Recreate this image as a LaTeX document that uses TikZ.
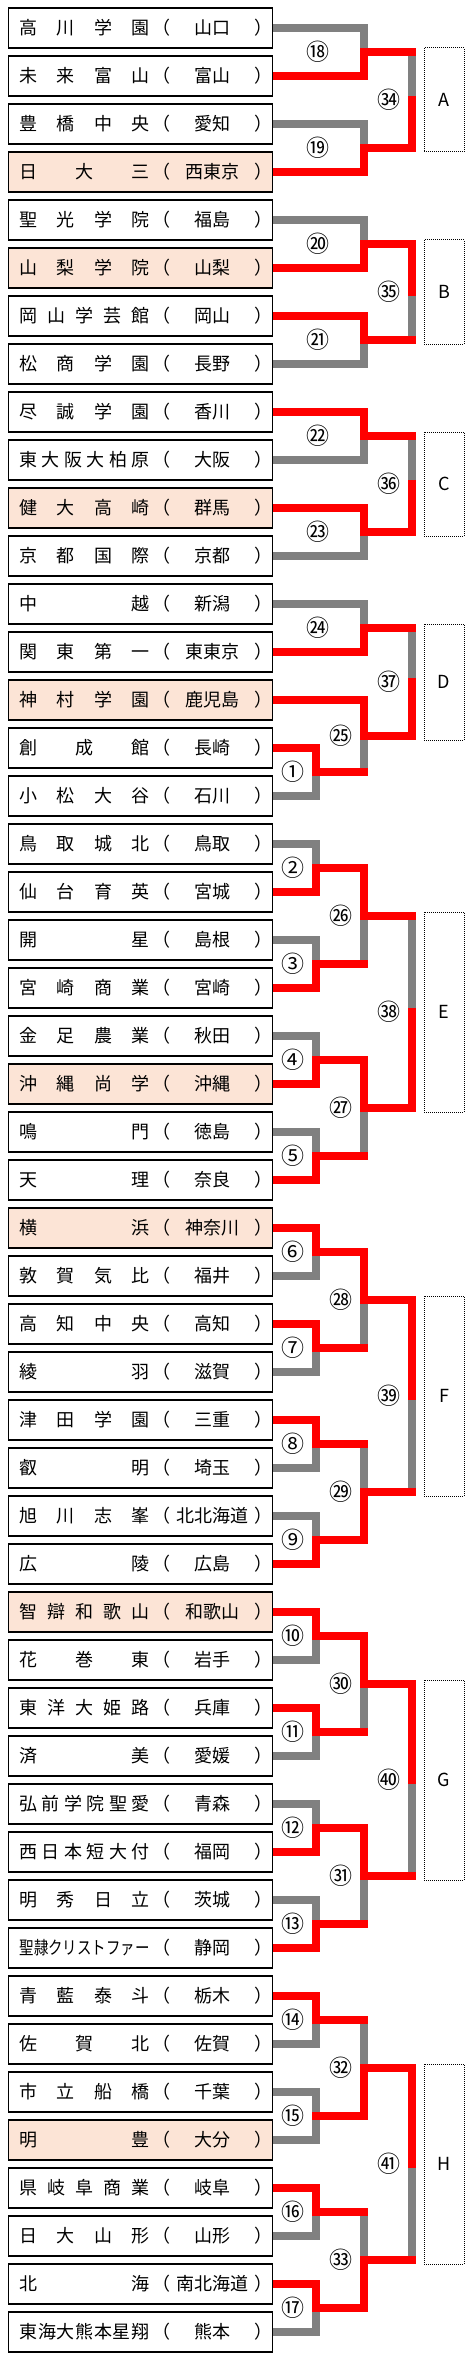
\documentclass[tikz,border=0pt]{standalone}
\usepackage{fontspec}
\setmainfont{Noto Sans CJK JP}
\usepackage{graphicx}
\definecolor{peach}{HTML}{FCE4D6}
\definecolor{losegray}{HTML}{808080}
\newsavebox\namebox
\newcommand\sprd[1]{\expandafter\sprdA#1\relax}
\def\sprdA#1{\ifx#1\relax\else#1\expandafter\sprdB\fi}
\def\sprdB#1{\ifx#1\relax\else\hfill#1\expandafter\sprdB\fi}
\newcommand\namefield[1]{\sbox\namebox{#1}\ifdim\wd\namebox>65pt\resizebox{65pt}{\height}{#1}\else\makebox[65pt][s]{\sprd{#1}}\fi}
\newcommand\teamtext[2]{\makebox[132pt][l]{\hspace{5.5pt}\namefield{#1}\hspace{1.5pt}（\makebox[42pt]{#2}）}}

\begin{document}
\begin{tikzpicture}[x=0.5pt,y=-0.5pt,font=\fontsize{9pt}{11pt}\selectfont,
  team/.style={draw,line width=0.6pt,inner sep=0pt,minimum height=20pt,anchor=west},
  num/.style={inner sep=0pt,font=\fontsize{11.5pt}{12pt}\selectfont},
  grp/.style={draw,line width=0.5pt,dash pattern=on 0.5pt off 0.5pt,inner sep=0pt,minimum width=20pt},
  lost/.style={draw=losegray,line width=4pt},
  won/.style={draw=red,line width=4pt}]
  \path[use as bounding box,fill=white] (0,0) rectangle (473,2360);

  \foreach \i/\nm/\pf/\bg in {0/高川学園/山口/white, 1/未来富山/富山/white, 2/豊橋中央/愛知/white, 3/日大三/西東京/peach,
    4/聖光学院/福島/white, 5/山梨学院/山梨/peach, 6/岡山学芸館/岡山/white, 7/松商学園/長野/white,
    8/尽誠学園/香川/white, 9/東大阪大柏原/大阪/white, 10/健大高崎/群馬/peach, 11/京都国際/京都/white,
    12/中越/新潟/white, 13/関東第一/東東京/white, 14/神村学園/鹿児島/peach, 15/創成館/長崎/white, 16/小松大谷/石川/white,
    17/鳥取城北/鳥取/white, 18/仙台育英/宮城/white, 19/開星/島根/white, 20/宮崎商業/宮崎/white,
    21/金足農業/秋田/white, 22/沖縄尚学/沖縄/peach, 23/鳴門/徳島/white, 24/天理/奈良/white,
    25/横浜/神奈川/peach, 26/敦賀気比/福井/white, 27/高知中央/高知/white, 28/綾羽/滋賀/white,
    29/津田学園/三重/white, 30/叡明/埼玉/white, 31/旭川志峯/北北海道/white, 32/広陵/広島/white,
    33/智辯和歌山/和歌山/peach, 34/花巻東/岩手/white, 35/東洋大姫路/兵庫/white, 36/済美/愛媛/white,
    37/弘前学院聖愛/青森/white, 38/西日本短大付/福岡/white, 39/明秀日立/茨城/white, 40/聖隷クリストファー/静岡/white,
    41/青藍泰斗/栃木/white, 42/佐賀北/佐賀/white, 43/市立船橋/千葉/white, 44/明豊/大分/peach,
    45/県岐阜商業/岐阜/white, 46/日大山形/山形/white, 47/北海/南北海道/white, 48/東海大熊本星翔/熊本/white}
    \node[team,fill=\bg](t\i) at (8,28+48*\i) {\teamtext{\nm}{\pf}};

  \foreach \k/\c in {0/⑱,1/⑲,2/⑳,3/㉑,4/㉒,5/㉓,6/㉔}{
    \pgfmathtruncatemacro\n{18+\k}
    \coordinate (m\n) at (364,52+96*\k);
    \node[num](n\n) at (318,52+96*\k) {\c};}
  \foreach \k/\c in {0/②,1/③,2/④,3/⑤,4/⑥,5/⑦,6/⑧,7/⑨,8/⑩,9/⑪,10/⑫,11/⑬,12/⑭,13/⑮,14/⑯,15/⑰}{
    \pgfmathtruncatemacro\n{2+\k}
    \coordinate (m\n) at (316,868+96*\k);
    \node[num](n\n) at (293,868+96*\k) {\c};}
  \foreach \k/\c in {0/㉖,1/㉗,2/㉘,3/㉙,4/㉚,5/㉛,6/㉜,7/㉝}{
    \pgfmathtruncatemacro\n{26+\k}
    \coordinate (m\n) at (364,916+192*\k);
    \node[num](n\n) at (341,916+192*\k) {\c};}
  \foreach \k/\c in {0/㉞,1/㉟,2/㊱}{
    \pgfmathtruncatemacro\n{34+\k}
    \coordinate (m\n) at (412,100+192*\k);
    \node[num](n\n) at (389,100+192*\k) {\c};}
  \foreach \k/\c in {0/㊳,1/㊴,2/㊵,3/㊶}{
    \pgfmathtruncatemacro\n{38+\k}
    \coordinate (m\n) at (412,1012+384*\k);
    \node[num](n\n) at (389,1012+384*\k) {\c};}
  \coordinate (m1) at (316,772);  \node[num](n1) at (293,772) {①};
  \coordinate (m25) at (364,736); \node[num](n25) at (341,736) {㉕};
  \coordinate (m37) at (412,682); \node[num](n37) at (389,682) {㊲};

  \foreach \g/\y/\h in {A/100/52pt,B/292/52pt,C/484/52pt,D/682/58pt,E/1012/100pt,F/1396/100pt,G/1780/100pt,H/2164/100pt}
    \node[grp,minimum height=\h](g\g) at (444,\y) {\g};

  \foreach \i/\m/\s in {0/18/lost,1/18/won,2/19/lost,3/19/won,4/20/lost,5/20/won,6/21/won,7/21/lost,
    8/22/won,9/22/lost,10/23/won,11/23/lost,12/24/lost,13/24/won,14/25/won,15/1/won,16/1/lost,
    17/2/lost,18/2/won,19/3/lost,20/3/won,21/4/lost,22/4/won,23/5/lost,24/5/won,
    25/6/won,26/6/lost,27/7/won,28/7/lost,29/8/won,30/8/lost,31/9/lost,32/9/won,
    33/10/won,34/10/lost,35/11/won,36/11/lost,37/12/lost,38/12/won,39/13/lost,40/13/won,
    41/14/won,42/14/lost,43/15/lost,44/15/lost,45/16/won,46/16/lost,47/17/won,48/17/lost}
    \draw[\s](t\i.east) -| (m\m);

  \foreach \a/\b in {18/34,21/35,22/36,24/37,1/25,3/26,5/27,26/38,7/28,8/29,29/39,11/30,13/31,31/40,14/32,16/33,33/41}
    \draw[lost](m\a -| m\b) -- (m\b);
  \foreach \a/\b in {18/34,21/35,22/36,24/37,1/25,3/26,5/27,26/38,7/28,8/29,29/39,11/30,13/31,31/40,14/32,16/33,33/41}
    \draw[won,line cap=rect](m\a) -- (m\a -| m\b);
  \foreach \a/\b in {19/34,20/35,23/36,25/37,2/26,4/27,27/38,6/28,9/29,28/39,10/30,12/31,30/40,15/32,17/33,32/41}
    \draw[won,line cap=rect](m\a) -| (m\b);
\end{tikzpicture}
\end{document}
